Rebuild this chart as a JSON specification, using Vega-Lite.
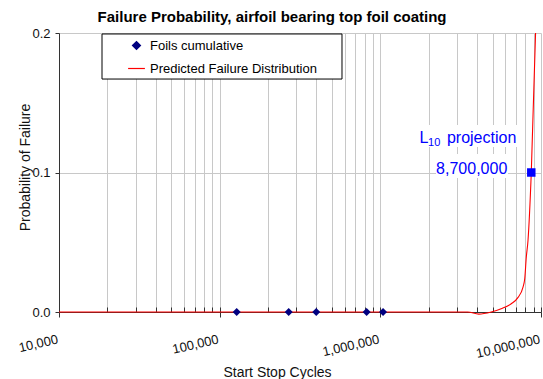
{
  "$schema": "https://vega.github.io/schema/vega-lite/v6.json",
  "width": 482,
  "height": 279,
  "autosize": {"type": "none"},
  "padding": {"left": 59, "top": 33, "right": 2, "bottom": 67},
  "background": "white",
  "title": {
    "text": "Failure Probability, airfoil bearing top foil coating",
    "font": "Liberation Sans",
    "fontSize": 15,
    "fontWeight": "bold",
    "color": "#000000",
    "anchor": "middle",
    "frame": "group",
    "dx": -28,
    "dy": 20,
    "baseline": "alphabetic",
    "offset": 10
  },
  "config": {
    "view": {"stroke": null},
    "font": "Liberation Sans"
  },
  "datasets": {
    "foils": [
      {"cycles": 127600, "probability": 0, "series": "Foils cumulative"},
      {"cycles": 269000, "probability": 0, "series": "Foils cumulative"},
      {"cycles": 399000, "probability": 0, "series": "Foils cumulative"},
      {"cycles": 822000, "probability": 0, "series": "Foils cumulative"},
      {"cycles": 1040000, "probability": 0, "series": "Foils cumulative"}
    ],
    "predicted": [
      {"cycles": 10000, "probability": 0, "series": "Predicted Failure Distribution"},
      {"cycles": 100000, "probability": 0, "series": "Predicted Failure Distribution"},
      {"cycles": 1000000, "probability": 0, "series": "Predicted Failure Distribution"},
      {"cycles": 3500000, "probability": 0, "series": "Predicted Failure Distribution"},
      {"cycles": 4100000, "probability": -0.0015, "series": "Predicted Failure Distribution"},
      {"cycles": 4900000, "probability": 0, "series": "Predicted Failure Distribution"},
      {"cycles": 5650000, "probability": 0.0023, "series": "Predicted Failure Distribution"},
      {"cycles": 6530000, "probability": 0.0059, "series": "Predicted Failure Distribution"},
      {"cycles": 7200000, "probability": 0.0105, "series": "Predicted Failure Distribution"},
      {"cycles": 7720000, "probability": 0.0177, "series": "Predicted Failure Distribution"},
      {"cycles": 7920000, "probability": 0.0238, "series": "Predicted Failure Distribution"},
      {"cycles": 8100000, "probability": 0.0393, "series": "Predicted Failure Distribution"},
      {"cycles": 8300000, "probability": 0.0513, "series": "Predicted Failure Distribution"},
      {"cycles": 8700000, "probability": 0.1, "series": "Predicted Failure Distribution"},
      {"cycles": 9250000, "probability": 0.2, "series": "Predicted Failure Distribution"}
    ],
    "l10": [
      {"cycles": 8700000, "probability": 0.1}
    ]
  },
  "resolve": {"axis": {"x": "independent", "y": "independent"}},
  "layer": [
    {
      "data": {"name": "l10"},
      "mark": {"type": "rect", "color": "white"},
      "encoding": {
        "x": {"datum": 1691000, "type": "quantitative", "scale": {"type": "log", "domain": [10000, 10000000], "nice": false}, "axis": null},
        "x2": {"datum": 7508000},
        "y": {"datum": 0.134, "type": "quantitative", "scale": {"domain": [0, 0.2], "nice": false, "zero": false}, "axis": null},
        "y2": {"datum": 0.1183}
      }
    },
    {
      "data": {"name": "l10"},
      "mark": {"type": "rect", "color": "white"},
      "encoding": {
        "x": {"datum": 2221000, "type": "quantitative", "scale": {"type": "log", "domain": [10000, 10000000], "nice": false}, "axis": null},
        "x2": {"datum": 6230000},
        "y": {"datum": 0.1133, "type": "quantitative", "scale": {"domain": [0, 0.2], "nice": false, "zero": false}, "axis": null},
        "y2": {"datum": 0.0961}
      }
    },
    {
      "data": {"name": "l10"},
      "mark": {"type": "rect", "fill": "white", "stroke": "#000000", "strokeWidth": 1},
      "encoding": {
        "x": {"datum": 18520, "type": "quantitative", "scale": {"type": "log", "domain": [10000, 10000000], "nice": false}, "axis": null},
        "x2": {"datum": 577200},
        "y": {"datum": 0.1993, "type": "quantitative", "scale": {"domain": [0, 0.2], "nice": false, "zero": false}, "axis": null},
        "y2": {"datum": 0.167}
      }
    },
    {
      "data": {"name": "predicted"},
      "mark": {"type": "line", "interpolate": "monotone", "strokeWidth": 1.1},
      "encoding": {
        "x": {
          "field": "cycles",
          "type": "quantitative",
          "scale": {"type": "log", "domain": [10000, 10000000], "nice": false},
          "axis": {
            "orient": "bottom",
            "values": [10000, 20000, 30000, 40000, 50000, 60000, 70000, 80000, 90000,
                       100000, 200000, 300000, 400000, 500000, 600000, 700000, 800000, 900000,
                       1000000, 2000000, 3000000, 4000000, 5000000, 6000000, 7000000, 8000000, 9000000,
                       10000000],
            "grid": true,
            "gridColor": "#c8c8c8",
            "gridWidth": 1,
            "labels": false,
            "domain": false,
            "ticks": true,
            "tickSize": -5,
            "tickColor": "#333333",
            "title": null,
            "zindex": 0
          }
        },
        "y": {
          "field": "probability",
          "type": "quantitative",
          "scale": {"domain": [0, 0.2], "nice": false, "zero": false},
          "axis": {
            "orient": "left",
            "values": [0, 0.1, 0.2],
            "format": ".1f",
            "grid": true,
            "gridColor": "#c8c8c8",
            "domainColor": "#333333",
            "tickColor": "#333333",
            "tickSize": 4,
            "labelPadding": 5,
            "labelFont": "Liberation Sans",
            "labelFontSize": 13,
            "labelColor": "#111111",
            "title": "Probability of Failure",
            "titleFont": "Liberation Sans",
            "titleFontSize": 14,
            "titleFontWeight": "normal",
            "titleColor": "#111111",
            "titleAngle": -90,
            "titleX": -29.5,
            "titleY": 134,
            "titleAlign": "center",
            "titleBaseline": "alphabetic",
            "zindex": 0
          }
        },
        "color": {
          "field": "series",
          "type": "nominal",
          "scale": {"domain": ["Foils cumulative", "Predicted Failure Distribution"], "range": ["#000080", "#ff0000"]},
          "legend": {
            "title": null,
            "orient": "none",
            "legendX": 43,
            "legendY": 1,
            "direction": "vertical",
            "strokeColor": null,
            "fillColor": null,
            "padding": 5,
            "rowPadding": 9,
            "symbolSize": 64,
            "symbolOffset": 23,
            "labelOffset": 7,
            "labelFont": "Liberation Sans",
            "labelFontSize": 13,
            "labelColor": "#000000",
            "labelLimit": 400,
            "encode": {
              "symbols": {
                "update": {
                  "fill": {"scale": "color", "field": "value"},
                  "stroke": {"scale": "color", "field": "value"},
                  "strokeWidth": {"value": 1.2},
                  "opacity": {"value": 1}
                }
              }
            }
          }
        }
      }
    },
    {
      "data": {"name": "foils"},
      "mark": {"type": "point", "filled": true, "size": 64, "opacity": 1},
      "encoding": {
        "x": {
          "field": "cycles",
          "type": "quantitative",
          "scale": {"type": "log", "domain": [10000, 10000000], "nice": false},
          "axis": {
            "orient": "bottom",
            "values": [10000, 100000, 1000000, 10000000],
            "format": ",d",
            "grid": false,
            "domain": true,
            "domainColor": "#333333",
            "ticks": true,
            "tickSize": 5,
            "tickColor": "#333333",
            "labelAngle": -13,
            "labelAlign": "right",
            "labelBaseline": "top",
            "labelPadding": 16,
            "labelOffset": -3,
            "labelFont": "Liberation Sans",
            "labelFontSize": 13,
            "labelColor": "#111111",
            "labelFlush": false,
            "labelOverlap": false,
            "labelBound": false,
            "title": "Start Stop Cycles",
            "titleFont": "Liberation Sans",
            "titleFontSize": 14,
            "titleFontWeight": "normal",
            "titleColor": "#111111",
            "titleX": 218,
            "titleY": 64,
            "titleAlign": "center",
            "titleBaseline": "alphabetic",
            "zindex": 0
          }
        },
        "y": {
          "field": "probability",
          "type": "quantitative",
          "scale": {"domain": [0, 0.2], "nice": false, "zero": false},
          "axis": null
        },
        "color": {
          "field": "series",
          "type": "nominal",
          "scale": {"domain": ["Foils cumulative", "Predicted Failure Distribution"], "range": ["#000080", "#ff0000"]},
          "legend": {
            "title": null,
            "orient": "none",
            "legendX": 43,
            "legendY": 1,
            "direction": "vertical",
            "strokeColor": null,
            "fillColor": null,
            "padding": 5,
            "rowPadding": 9,
            "symbolSize": 64,
            "symbolOffset": 23,
            "labelOffset": 7,
            "labelFont": "Liberation Sans",
            "labelFontSize": 13,
            "labelColor": "#000000",
            "labelLimit": 400,
            "encode": {
              "symbols": {
                "update": {
                  "fill": {"scale": "color", "field": "value"},
                  "stroke": {"scale": "color", "field": "value"},
                  "strokeWidth": {"value": 1.2},
                  "opacity": {"value": 1}
                }
              }
            }
          }
        },
        "shape": {
          "field": "series",
          "type": "nominal",
          "scale": {"domain": ["Foils cumulative", "Predicted Failure Distribution"], "range": ["diamond", "M-2.1,0H2.1"]},
          "legend": {
            "title": null,
            "orient": "none",
            "legendX": 43,
            "legendY": 1,
            "direction": "vertical",
            "strokeColor": null,
            "fillColor": null,
            "padding": 5,
            "rowPadding": 9,
            "symbolSize": 64,
            "symbolOffset": 23,
            "labelOffset": 7,
            "labelFont": "Liberation Sans",
            "labelFontSize": 13,
            "labelColor": "#000000",
            "labelLimit": 400,
            "encode": {
              "symbols": {
                "update": {
                  "fill": {"scale": "color", "field": "value"},
                  "stroke": {"scale": "color", "field": "value"},
                  "strokeWidth": {"value": 1.2},
                  "opacity": {"value": 1}
                }
              }
            }
          }
        }
      }
    },
    {
      "data": {"name": "l10"},
      "mark": {"type": "square", "filled": true, "size": 72, "opacity": 1, "color": "#0000ff"},
      "encoding": {
        "x": {"field": "cycles", "type": "quantitative", "scale": {"type": "log", "domain": [10000, 10000000], "nice": false}, "axis": null},
        "y": {"field": "probability", "type": "quantitative", "scale": {"domain": [0, 0.2], "nice": false, "zero": false}, "axis": null}
      }
    },
    {
      "data": {"name": "l10"},
      "mark": {"type": "text", "align": "right", "baseline": "alphabetic", "dx": -24, "dy": 1, "font": "Liberation Sans", "fontSize": 16, "color": "#0000ff"},
      "encoding": {
        "x": {"field": "cycles", "type": "quantitative", "scale": {"type": "log", "domain": [10000, 10000000], "nice": false}, "axis": null},
        "y": {"field": "probability", "type": "quantitative", "scale": {"domain": [0, 0.2], "nice": false, "zero": false}, "axis": null},
        "text": {"field": "cycles", "type": "quantitative", "format": ",d"}
      }
    },
    {
      "data": {"name": "l10"},
      "mark": {"type": "text", "text": "L", "align": "right", "baseline": "alphabetic", "dx": -103, "dy": -30, "font": "Liberation Sans", "fontSize": 16, "color": "#0000ff"},
      "encoding": {
        "x": {"field": "cycles", "type": "quantitative", "scale": {"type": "log", "domain": [10000, 10000000], "nice": false}, "axis": null},
        "y": {"field": "probability", "type": "quantitative", "scale": {"domain": [0, 0.2], "nice": false, "zero": false}, "axis": null}
      }
    },
    {
      "data": {"name": "l10"},
      "mark": {"type": "text", "text": "10", "align": "right", "baseline": "alphabetic", "dx": -91, "dy": -27, "font": "Liberation Sans", "fontSize": 11, "color": "#0000ff"},
      "encoding": {
        "x": {"field": "cycles", "type": "quantitative", "scale": {"type": "log", "domain": [10000, 10000000], "nice": false}, "axis": null},
        "y": {"field": "probability", "type": "quantitative", "scale": {"domain": [0, 0.2], "nice": false, "zero": false}, "axis": null}
      }
    },
    {
      "data": {"name": "l10"},
      "mark": {"type": "text", "text": "projection", "align": "right", "baseline": "alphabetic", "dx": -15, "dy": -30, "font": "Liberation Sans", "fontSize": 16, "color": "#0000ff"},
      "encoding": {
        "x": {"field": "cycles", "type": "quantitative", "scale": {"type": "log", "domain": [10000, 10000000], "nice": false}, "axis": null},
        "y": {"field": "probability", "type": "quantitative", "scale": {"domain": [0, 0.2], "nice": false, "zero": false}, "axis": null}
      }
    }
  ]
}
